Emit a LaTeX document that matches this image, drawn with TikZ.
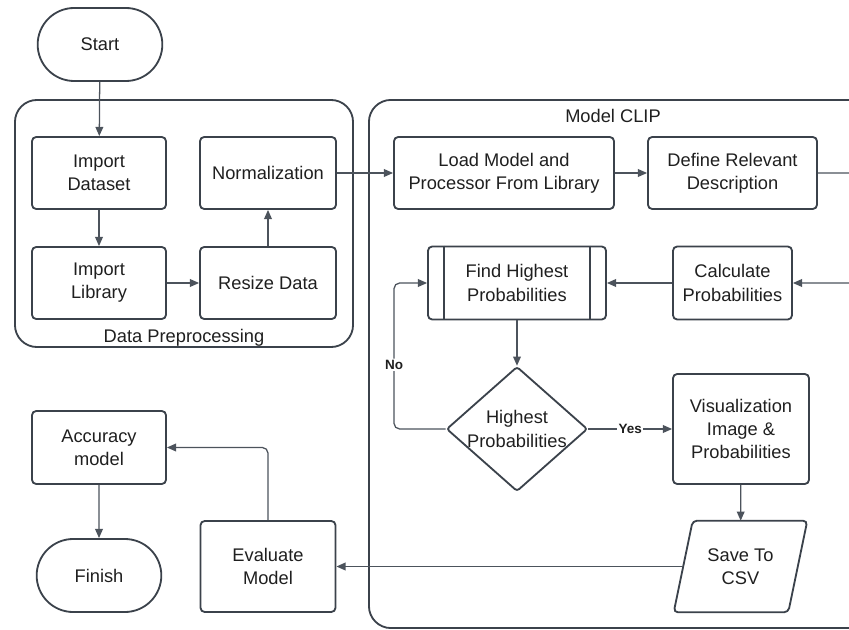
\documentclass[tikz,border=0pt]{standalone}
\usepackage{fontspec}
\setmainfont{Liberation Sans}
\usetikzlibrary{shapes.geometric,shapes.misc,arrows.meta}

\definecolor{boxgray}{HTML}{3B424B}
\definecolor{linegray}{HTML}{4C535C}

\tikzset{
    every node/.style={font=\fontsize{13}{16.5}\selectfont, align=center,
    	text=black!88}
}
\tikzset{
    process/.style={rectangle, draw=boxgray, line width=1.3pt,
    	rounded corners=3pt, minimum width=3.35cm, minimum height=1.8cm,
    	inner sep=2pt},
    terminal/.style={rounded rectangle, draw=boxgray, line width=1.3pt,
    	minimum width=3.35cm, minimum height=1.825cm},
    decision/.style={diamond, draw=boxgray, line width=1.3pt,
    	rounded corners=2pt, aspect=1.13, inner sep=0pt,
    	minimum width=3.5cm, minimum height=3.1cm},
    iobox/.style={rectangle, minimum width=2.85cm, minimum height=2.275cm,
    	inner sep=1pt},
    group/.style={rectangle, draw=boxgray, line width=1.3pt,
    	rounded corners=0.55cm}
}
\tikzset{
    arrow/.style={draw=linegray, line width=0.9pt,
    	-{Triangle[length=6.5pt,width=5.5pt]}},
    answer/.style={font=\bfseries\fontsize{9.6}{11}\selectfont, fill=white,
    	inner sep=1pt}
}

\begin{document}
\begin{tikzpicture}[x=0.025cm, y=-0.025cm]
	\useasboundingbox (0,0) rectangle (849,630);

	% the two frames
	\node (prep) [group, minimum width=8.45cm, minimum height=6.175cm]
		at (184,223.5) {};
	\node (preplabel) at (184,338) {Data Preprocessing};
	\node (clip) [group, minimum width=12.6cm, minimum height=13.2cm]
		at (621,364) {};
	\node (cliplabel) at (613,116) {Model CLIP};

	% left column
	\node (start) [terminal] at (100,44.5) {Start};
	\node (imds) [process] at (99,173) {Import\\Dataset};
	\node (imlib) [process] at (99,283) {Import\\Library};
	\node (norm) [process, minimum width=3.4cm] at (268,173) {Normalization};
	\node (resize) [process, minimum width=3.4cm] at (268,283) {Resize Data};

	% model part
	\node (load) [process, minimum width=5.5cm] at (504,173)
		{Load Model and\\Processor From Library};
	\node (define) [process, minimum width=4.225cm] at (732.5,173)
		{Define Relevant\\Description};
	\node (find) [process, minimum width=4.45cm, minimum height=1.825cm]
		at (517,283) {Find Highest\\Probabilities};
	\draw[boxgray, line width=1.3pt] ([xshift=0.425cm]find.north west)
		-- ([xshift=0.425cm]find.south west);
	\draw[boxgray, line width=1.3pt] ([xshift=-0.425cm]find.north east)
		-- ([xshift=-0.425cm]find.south east);
	\node (calc) [process, minimum width=2.975cm, minimum height=1.825cm]
		at (732.5,283) {Calculate\\Probabilities};
	\node (dec) [decision] at (517,429) {Highest\\Probabilities};
	\node (vis) [process, minimum width=3.4cm, minimum height=2.75cm]
		at (741,429) {Visualization\\Image \&\\Probabilities};
	\node (save) [iobox] at (740.5,566.5) {Save To\\CSV};
	% slanted outline of the output step
	\draw[boxgray, line width=1.3pt, rounded corners=3pt]
		([xshift=0.2375cm]save.north west) -- ([xshift=0.2375cm]save.north east)
		-- ([xshift=-0.2375cm]save.south east)
		-- ([xshift=-0.2375cm]save.south west) -- cycle;

	% closing steps
	\node (eval) [process, minimum width=3.375cm, minimum height=2.275cm]
		at (268,566.5) {Evaluate\\Model};
	\node (acc) [process, minimum height=1.825cm] at (99,447.5)
		{Accuracy\\model};
	\node (finish) [terminal] at (99,575.5) {Finish};

	\coordinate (rside) at (862,228);
	\coordinate (nox) at (394,429);

	\draw[arrow] (start) -- (imds);
	\draw[arrow] (imds) -- (imlib);
	\draw[arrow] (imlib) -- (resize);
	\draw[arrow] (resize) -- (norm);
	\draw[arrow] (norm) -- (load);
	\draw[arrow] (load) -- (define);
	\draw[arrow, rounded corners=4pt] (define) -| (rside) |- (calc);
	\draw[arrow] (calc) -- (find);
	\draw[arrow] (find) -- (dec);
	\draw[arrow, rounded corners=4pt] (dec) -- (nox) |- (find)
		node[answer, pos=0.22] {No};
	\draw[arrow] (dec) -- node[answer] {Yes} (vis);
	\draw[arrow] (vis) -- (save);
	\draw[arrow] (save) -- (eval);
	\draw[arrow, rounded corners=4pt] (eval) |- (acc);
	\draw[arrow] (acc) -- (finish);
\end{tikzpicture}
\end{document}
